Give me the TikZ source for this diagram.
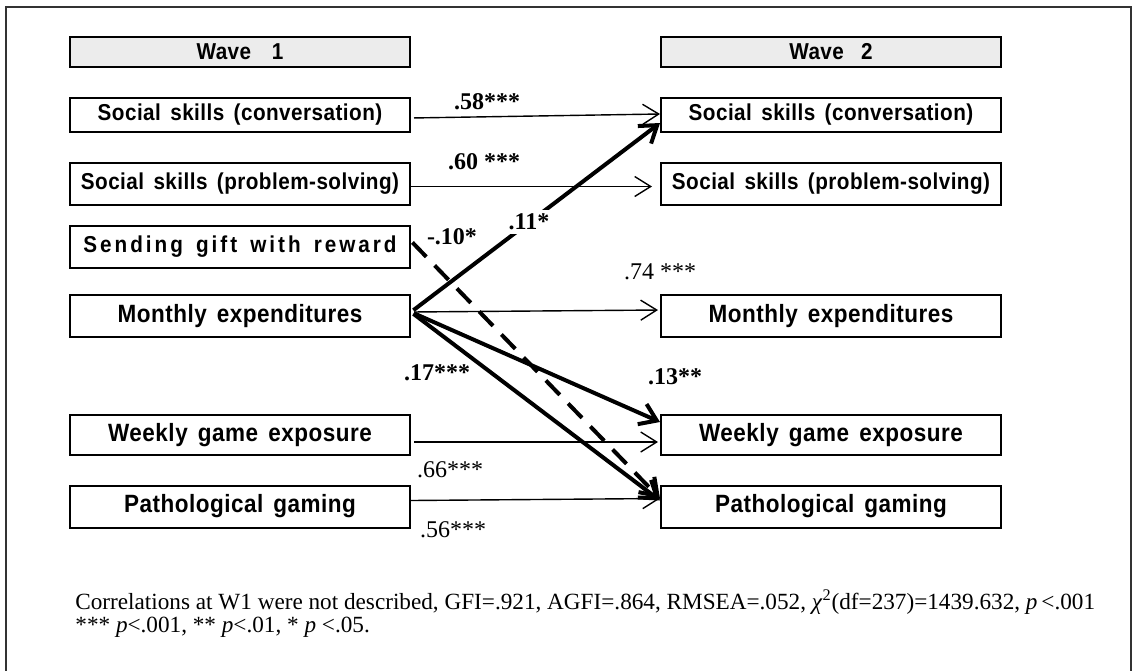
\documentclass[tikz,border=0pt]{standalone}
\usepackage{fontspec}
\setmainfont{Liberation Serif}
\newfontfamily\boxfont[FakeStretch=0.9, LetterSpace=2, WordSpace=1.5]{Liberation Sans}
\newfontfamily\giftfont[FakeStretch=0.9, LetterSpace=13, WordSpace=1.5]{Liberation Sans}
\usetikzlibrary{arrows.meta, calc}

\begin{document}
\begin{tikzpicture}[x=0.5pt, y=-0.5pt,
    var/.style={draw, line width=1pt, minimum width=170pt, minimum height=21pt,
        inner sep=0pt, font=\fontsize{11.5}{13}\boxfont\bfseries},
    bigvar/.style={var, font=\fontsize{12.5}{14}\boxfont\bfseries},
    wave/.style={var, fill=gray!15, minimum height=15pt},
    pth/.style={line width=0.7pt, -{Straight Barb[length=8pt,width=10pt]}},
    eff/.style={line width=2pt, -{Straight Barb[length=8pt,width=11pt]}},
    coef/.style={font=\fontsize{12}{14}\selectfont\bfseries, inner sep=0pt},
    stab/.style={font=\fontsize{12}{14}\selectfont, inner sep=0pt},
    note/.style={anchor=west, inner sep=0pt, font=\fontsize{11.6}{13}\selectfont}]
    \useasboundingbox (0,0) rectangle (1136,670);

    % Frame
    \draw[line width=0.8pt, black!80] (6,680) -- (6,7) -- (1131,7) -- (1131,680);

    % Wave 1
    \node[wave] (w1) at (240,52) {Wave\hspace{0.9em}1};
    \node[var, minimum height=17pt] (sc1) at (240,115) {Social skills (conversation)};
    \node[var] (pr1) at (240,183.5) {Social skills (problem-solving)};
    \node[var, font=\fontsize{11.5}{13}\giftfont\bfseries] (gf1) at (240,247) {Sending gift with reward};
    \node[bigvar] (mo1) at (240,316) {Monthly expenditures};
    \node[bigvar, minimum height=20pt] (wk1) at (240,435) {Weekly game exposure};
    \node[bigvar] (pg1) at (240,506.5) {Pathological gaming};

    % Wave 2
    \node[wave] (w2) at (831,52) {Wave\hspace{0.75em}2};
    \node[var, minimum height=17pt] (sc2) at (831,115) {Social skills (conversation)};
    \node[var] (pr2) at (831,183.5) {Social skills (problem-solving)};
    \node[bigvar] (mo2) at (831,316) {Monthly expenditures};
    \node[bigvar, minimum height=20pt] (wk2) at (831,435) {Weekly game exposure};
    \node[bigvar] (pg2) at (831,506.5) {Pathological gaming};

    % Stability paths
    \draw[pth, shorten <=1.5pt] ([yshift=-1.5pt]sc1.east) -- ([yshift=0.5pt]sc2.west);
    \draw[pth, shorten >=4pt] ([yshift=-1.5pt]pr1.east) -- ([yshift=-1.5pt]pr2.west);
    \draw[pth, shorten <=1.5pt, shorten >=1pt] ([yshift=2pt]mo1.east) -- ([yshift=3pt]mo2.west);
    \draw[pth, shorten <=1.5pt, shorten >=1pt] ([yshift=-3.5pt]wk1.east) -- ([yshift=-3.5pt]wk2.west);
    \draw[pth] ([yshift=3pt]pg1.east) -- ([yshift=4pt]pg2.west);

    % Cross-lagged paths
    \draw[eff, shorten <=1.5pt] ([yshift=2pt]mo1.east) -- ([yshift=-4pt]sc2.west);
    \draw[eff, shorten <=1.5pt] ([yshift=2pt]mo1.east) -- ([yshift=6.5pt]wk2.west);
    \draw[eff, shorten <=1.5pt] ([yshift=2pt]mo1.east) -- ([yshift=3pt]pg2.west);
    \draw[eff, dash pattern=on 10pt off 6pt, shorten <=1pt] ([yshift=3pt]gf1.east) -- ([yshift=4pt]pg2.west);

    % Coefficients
    \node[coef] (c58) at (487,102) {.58***};
    \node[coef] (c60) at (484,162) {.60 ***};
    \node[coef, fill=white, inner sep=2pt] (c11) at (529,222) {.11*};
    \node[coef] (c10) at (452,237) {-.10*};
    \node[stab] (c74) at (660,272) {.74 ***};
    \node[coef] (c17) at (437,373) {.17***};
    \node[coef] (c13) at (675,377) {.13**};
    \node[stab] (c66) at (450,470) {.66***};
    \node[stab] (c56) at (453,530) {.56***};

    % Notes
    \node[note] (note1) at (75,602) {Correlations at W1 were not described, GFI=.921, AGFI=.864, RMSEA=.052, \textit{χ}\textsuperscript{2}(df=237)=1439.632, \textit{p}\,<.001};
    \node[note] (note2) at (75,627) {*** \textit{p}<.001, ** \textit{p}<.01, * \textit{p} <.05.};
\end{tikzpicture}
\end{document}
